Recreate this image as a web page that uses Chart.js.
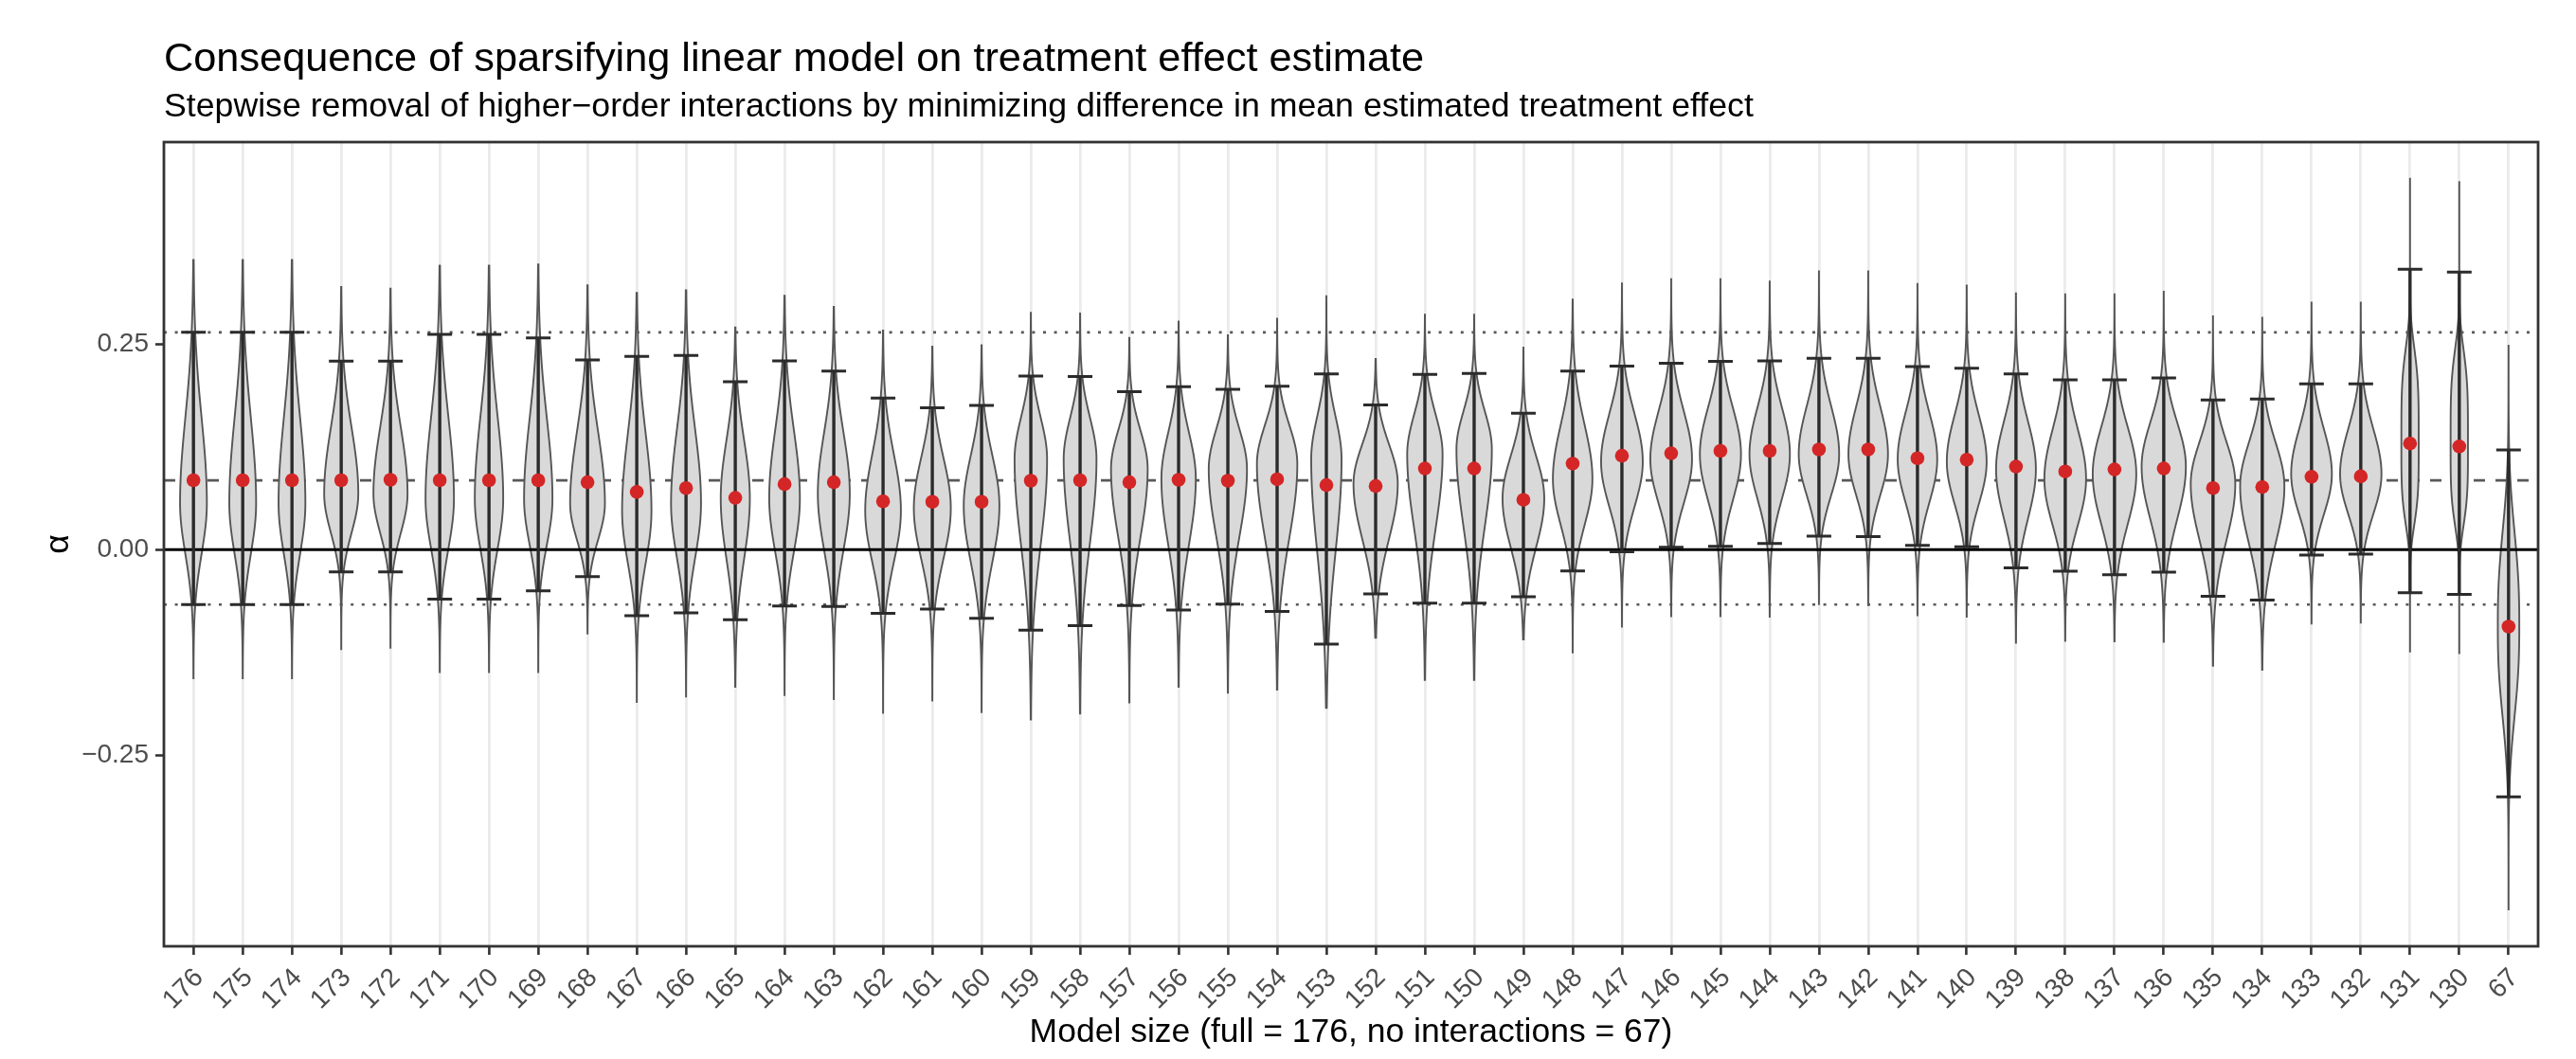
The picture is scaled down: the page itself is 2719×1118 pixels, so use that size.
<!DOCTYPE html>
<html>
<head>
<meta charset="utf-8">
<script src="https://cdn.jsdelivr.net/npm/chart.js@4.4.1/dist/chart.umd.min.js"></script>
<style>
    html, body { margin: 0; padding: 0; background: #ffffff; }
    #wrap { width: 2719px; height: 1118px; }
</style>
</head>
<body>
<div id="wrap"><canvas id="violins"></canvas></div>
<script>
// model sizes along the x axis (full = 176 ... 130, then no interactions = 67)
const modelSizes = ['176', '175', '174', '173', '172', '171', '170', '169', '168', '167', '166', '165',
    '164', '163', '162', '161', '160', '159', '158', '157', '156', '155', '154', '153', '152', '151',
    '150', '149', '148', '147', '146', '145', '144', '143', '142', '141', '140', '139', '138', '137',
    '136', '135', '134', '133', '132', '131', '130', '67'];

// red points: mean estimated treatment effect
const meanEffect = [0.0844, 0.0844, 0.0844, 0.0844, 0.085, 0.0844, 0.0844, 0.0844, 0.082, 0.0701, 0.0749, 0.063,
    0.0796, 0.082, 0.0588, 0.0582, 0.0582, 0.0838, 0.0844, 0.082, 0.085, 0.0838, 0.0856, 0.0785, 0.0773, 0.0987,
    0.0987, 0.0606, 0.1046, 0.1141, 0.1171, 0.120, 0.120, 0.1218, 0.1218, 0.1111, 0.1094, 0.101, 0.0951, 0.0975,
    0.0987, 0.0749, 0.0761, 0.0886, 0.0891, 0.129, 0.1254, -0.0933];

// error bar caps
const upperCap = [0.264, 0.264, 0.264, 0.229, 0.229, 0.2615, 0.2615, 0.2573, 0.2306, 0.2348, 0.236, 0.2039,
    0.2294, 0.2169, 0.1842, 0.1724, 0.1753, 0.211, 0.2104, 0.192, 0.198, 0.1949, 0.1985, 0.2134, 0.1759, 0.2128,
    0.214, 0.1658, 0.2169, 0.2229, 0.2264, 0.2288, 0.2294, 0.2324, 0.2324, 0.2223, 0.2205, 0.2134, 0.2062, 0.2062,
    0.2086, 0.1819, 0.183, 0.2015, 0.2015, 0.3405, 0.337, 0.1212];
const lowerCap = [-0.0666, -0.0666, -0.0666, -0.027, -0.027, -0.060, -0.060, -0.050, -0.0327, -0.0802, -0.0767, -0.085,
    -0.0683, -0.069, -0.0773, -0.0719, -0.0832, -0.0975, -0.0921, -0.0678, -0.0731, -0.066, -0.0749, -0.1147, -0.0535, -0.0648,
    -0.0648, -0.0571, -0.0256, -0.0024, 0.003, 0.0042, 0.0077, 0.0166, 0.016, 0.0053, 0.0036, -0.022, -0.0261, -0.0303,
    -0.0273, -0.0565, -0.0612, -0.0065, -0.0053, -0.0523, -0.0541, -0.300];

// violin extent
const violinMax = [0.352, 0.352, 0.352, 0.319, 0.317, 0.345, 0.345, 0.3465, 0.321, 0.312, 0.315, 0.270,
    0.3085, 0.2948, 0.2663, 0.2466, 0.2484, 0.2877, 0.287, 0.2573, 0.277, 0.2603, 0.2805, 0.3079, 0.2318, 0.2853,
    0.2853, 0.2455, 0.3037, 0.3233, 0.3287, 0.3287, 0.3257, 0.3382, 0.3382, 0.3227, 0.3209, 0.3114, 0.3102, 0.3102,
    0.3132, 0.2835, 0.2817, 0.3001, 0.3001, 0.4517, 0.4475, 0.2478];
const violinMin = [-0.156, -0.156, -0.156, -0.1206, -0.119, -0.1486, -0.1486, -0.1486, -0.1016, -0.1848, -0.1783, -0.1664,
    -0.1765, -0.1813, -0.198, -0.183, -0.1973, -0.2062, -0.199, -0.1854, -0.1664, -0.1735, -0.170, -0.192, -0.107, -0.158,
    -0.158, -0.1088, -0.1248, -0.0933, -0.0808, -0.0808, -0.0814, -0.066, -0.0672, -0.0796, -0.0814, -0.1129, -0.1105, -0.1111,
    -0.1117, -0.1409, -0.1456, -0.0897, -0.0886, -0.1248, -0.1266, -0.4368];

// where each violin is widest, its half width there (in category widths) and how flat its body is
const peakAt = [0.0565, 0.0565, 0.0565, 0.068, 0.068, 0.062, 0.062, 0.062, 0.0565, 0.0475, 0.0565, 0.0624,
    0.0624, 0.068, 0.0475, 0.0505, 0.0535, 0.11, 0.11, 0.098, 0.086, 0.098, 0.104, 0.11, 0.080, 0.116,
    0.122, 0.0624, 0.086, 0.107, 0.11, 0.116, 0.116, 0.116, 0.116, 0.11, 0.107, 0.098, 0.086, 0.092,
    0.101, 0.080, 0.077, 0.092, 0.092, 0.13, 0.13, -0.092];
const peakWidth = [0.272, 0.272, 0.272, 0.346, 0.346, 0.288, 0.288, 0.288, 0.353, 0.298, 0.304, 0.295,
    0.311, 0.324, 0.362, 0.375, 0.362, 0.330, 0.333, 0.372, 0.349, 0.388, 0.410, 0.308, 0.449, 0.359,
    0.359, 0.423, 0.401, 0.423, 0.423, 0.417, 0.410, 0.410, 0.401, 0.401, 0.404, 0.404, 0.423, 0.442,
    0.449, 0.452, 0.449, 0.413, 0.420, 0.176, 0.176, 0.218];
const peakShape = [2, 2, 2, 2, 2, 2, 2, 2, 2, 2, 2, 2, 2, 2, 2, 2, 2, 2, 2, 2, 2, 2, 2, 2,
    2, 2, 2, 2, 2, 2, 2, 2, 2, 2, 2, 2, 2, 2, 2, 2, 2, 2, 2, 2, 2, 4, 4, 2.5];

// horizontal reference lines (full model mean and its interval)
const fullMean = 0.0843;
const fullUpper = 0.264;
const fullLower = -0.0666;

const yTicks = [-0.25, 0, 0.25];

const FONT = '"Liberation Sans", Arial, Helvetica, sans-serif';

function violinHalfWidth(i, v) {
    const up = v >= peakAt[i];
    const s = up ? (upperCap[i] - peakAt[i]) / 2 : (peakAt[i] - lowerCap[i]) / 2;
    const z = Math.abs(v - peakAt[i]) / s;
    return peakWidth[i] * Math.exp(-0.5 * Math.pow(z, peakShape[i]));
}

function hline(ctx, area, py, color, width, dash) {
    ctx.save();
    ctx.strokeStyle = color;
    ctx.lineWidth = width;
    ctx.setLineDash(dash);
    ctx.beginPath();
    ctx.moveTo(area.left, py);
    ctx.lineTo(area.right, py);
    ctx.stroke();
    ctx.restore();
}

const violinPlugin = {
    id: 'violinPlugin',
    beforeDatasetsDraw(chart) {
        const {ctx, chartArea: a, scales: {x, y}} = chart;
        const unit = x.getPixelForValue(1) - x.getPixelForValue(0);
        ctx.save();
        ctx.beginPath();
        ctx.rect(a.left, a.top, a.width, a.height);
        ctx.clip();

        hline(ctx, a, y.getPixelForValue(fullMean), '#595959', 2.6, [12, 11]);
        hline(ctx, a, y.getPixelForValue(fullUpper), '#595959', 2.6, [3, 8.6]);
        hline(ctx, a, y.getPixelForValue(fullLower), '#595959', 2.6, [3, 8.6]);

        const steps = 160;
        modelSizes.forEach((_, i) => {
            const cx = x.getPixelForValue(i);
            const lo = violinMin[i], hi = violinMax[i];
            ctx.beginPath();
            for (let k = 0; k <= steps; k++) {
                const v = lo + (hi - lo) * k / steps;
                const px = cx + violinHalfWidth(i, v) * unit;
                const py = y.getPixelForValue(v);
                if (k === 0) ctx.moveTo(px, py); else ctx.lineTo(px, py);
            }
            for (let k = steps; k >= 0; k--) {
                const v = lo + (hi - lo) * k / steps;
                ctx.lineTo(cx - violinHalfWidth(i, v) * unit, y.getPixelForValue(v));
            }
            ctx.closePath();
            ctx.fillStyle = '#d9d9d9';
            ctx.fill();
            ctx.strokeStyle = '#555555';
            ctx.lineWidth = 1.9;
            ctx.stroke();
        });

        hline(ctx, a, y.getPixelForValue(0), '#000000', 3, []);

        ctx.strokeStyle = '#2b2b2b';
        modelSizes.forEach((_, i) => {
            const cx = x.getPixelForValue(i);
            const top = y.getPixelForValue(upperCap[i]);
            const bot = y.getPixelForValue(lowerCap[i]);
            const half = unit * 0.25;
            ctx.lineWidth = 3.4;
            ctx.beginPath();
            ctx.moveTo(cx, top);
            ctx.lineTo(cx, bot);
            ctx.stroke();
            ctx.lineWidth = 3;
            ctx.beginPath();
            ctx.moveTo(cx - half, top);
            ctx.lineTo(cx + half, top);
            ctx.moveTo(cx - half, bot);
            ctx.lineTo(cx + half, bot);
            ctx.stroke();
        });
        ctx.restore();
    },
    afterDraw(chart) {
        const {ctx, chartArea: a} = chart;
        ctx.save();
        ctx.strokeStyle = '#333333';
        ctx.lineWidth = 2.8;
        ctx.strokeRect(a.left, a.top, a.width, a.height);

        ctx.fillStyle = '#000000';
        ctx.textAlign = 'left';
        ctx.textBaseline = 'alphabetic';
        ctx.font = '43.3px ' + FONT;
        ctx.fillText('Consequence of sparsifying linear model on treatment effect estimate', a.left, 75);
        ctx.font = '35.7px ' + FONT;
        ctx.fillText('Stepwise removal of higher\u2212order interactions by minimizing difference in mean estimated treatment effect', a.left, 123);
        ctx.restore();
    }
};

new Chart(document.getElementById('violins'), {
    type: 'scatter',
    data: {
        datasets: [{
            label: 'mean',
            data: meanEffect.map((v, i) => ({x: i, y: v})),
            pointRadius: 7.3,
            pointHoverRadius: 7.3,
            pointBackgroundColor: '#d42626',
            pointBorderWidth: 0,
            showLine: false
        }]
    },
    options: {
        responsive: true,
        maintainAspectRatio: false,
        animation: false,
        devicePixelRatio: 1,
        layout: {padding: {top: 150, right: 40, bottom: 0, left: 0}},
        plugins: {
            legend: {display: false},
            tooltip: {enabled: false},
            title: {display: false}
        },
        scales: {
            x: {
                type: 'linear',
                min: -0.6,
                max: modelSizes.length - 1 + 0.6,
                afterBuildTicks: (scale) => {
                    scale.ticks = modelSizes.map((_, i) => ({value: i}));
                },
                afterFit: (scale) => { scale.height = 119; },
                ticks: {
                    autoSkip: false,
                    minRotation: 45,
                    maxRotation: 45,
                    padding: 8,
                    labelOffset: 6,
                    color: '#4d4d4d',
                    font: {family: FONT, size: 28},
                    callback: (v) => modelSizes[v]
                },
                grid: {
                    color: '#ebebeb',
                    lineWidth: 2.8,
                    tickColor: '#333333',
                    tickWidth: 2.6,
                    tickLength: 9
                },
                border: {display: false},
                title: {
                    display: true,
                    text: 'Model size (full = 176, no interactions = 67)',
                    color: '#000000',
                    font: {family: FONT, size: 35.5},
                    padding: {top: 0, bottom: 6}
                }
            },
            y: {
                type: 'linear',
                min: -0.4815,
                max: 0.495,
                afterBuildTicks: (scale) => {
                    scale.ticks = yTicks.map((v) => ({value: v}));
                },
                afterFit: (scale) => { scale.width = 173; },
                ticks: {
                    padding: 7,
                    color: '#4d4d4d',
                    font: {family: FONT, size: 28},
                    callback: (v) => (v < 0 ? '\u2212' : '') + Math.abs(v).toFixed(2)
                },
                grid: {
                    drawOnChartArea: false,
                    tickColor: '#333333',
                    tickWidth: 2.6,
                    tickLength: 9
                },
                border: {display: false},
                title: {
                    display: true,
                    text: '\u03b1',
                    color: '#000000',
                    font: {family: FONT, size: 35.5},
                    padding: {top: 41, bottom: 0}
                }
            }
        }
    },
    plugins: [violinPlugin]
});
</script>
</body>
</html>
